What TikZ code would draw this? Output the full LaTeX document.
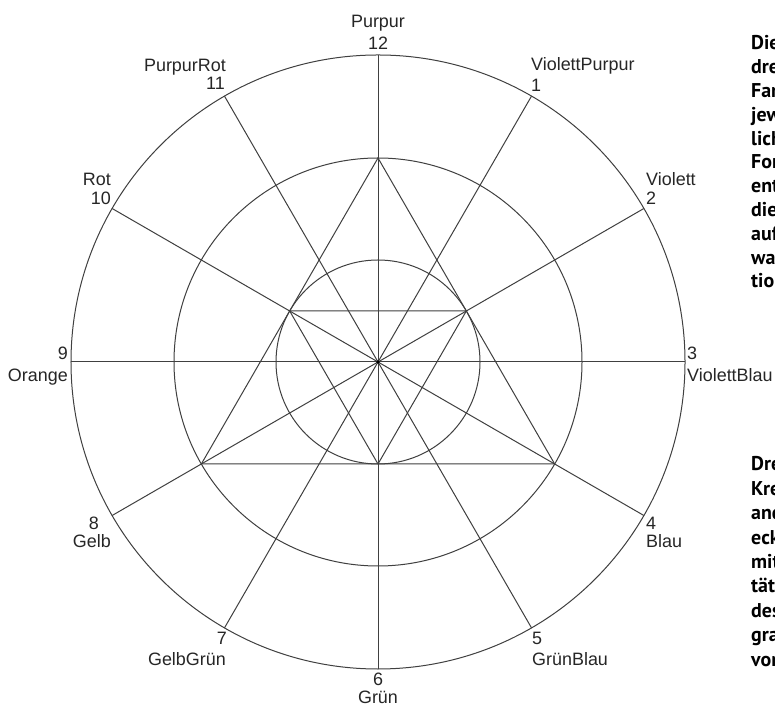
\documentclass[tikz,border=0pt]{standalone}
\usepackage{fontspec}
\setmainfont{Liberation Sans}
\newfontfamily\boldtext{PT Sans}
\begin{document}
\begin{tikzpicture}[x=1bp,y=1bp,line join=round]
\tikzset{
  wheel/.style={draw=black!75,line width=1bp},
  lab/.style={font=\fontsize{18}{20}\selectfont,text=black!85,inner sep=0pt},
  side/.style={font=\boldtext\bfseries\fontsize{20}{22}\selectfont,text=black,anchor=base west,inner sep=0pt}
}
\useasboundingbox (0,0) rectangle (775,707);
\fill[white] (0,0) rectangle (775,707);
\clip (0,0) rectangle (775,707);
\coordinate (C) at (378,345);
\foreach \i in {1,...,12} {\path (C) ++({90-30*\i}:307) coordinate (s\i);}
\path (C) ++(90:204) coordinate (T12);
\path (C) ++(210:204) coordinate (T8);
\path (C) ++(330:204) coordinate (T4);
\path (C) ++(30:102) coordinate (T2);
\path (C) ++(150:102) coordinate (T10);
\path (C) ++(270:102) coordinate (T6);
\draw[wheel] (C) circle[radius=307bp];
\draw[wheel] (C) circle[radius=204bp];
\draw[wheel] (C) circle[radius=102bp];
\foreach \i in {1,...,12} {\draw[wheel] (C) -- (s\i);}
\draw[wheel] (T12) -- (T8) -- (T4) -- cycle;
\draw[wheel] (T2) -- (T10) -- (T6) -- cycle;
\fill[black] (C) circle[radius=1.8bp];
% labels
\node[lab,anchor=base] (l12a) at (378,679) {Purpur};
\node[lab,anchor=base] (l12b) at (378,657) {12};
\node[lab,anchor=base west] (l1a) at (531,636) {ViolettPurpur};
\node[lab,anchor=base west] (l1b) at (531,615) {1};
\node[lab,anchor=base west] (l2a) at (646,521) {Violett};
\node[lab,anchor=base west] (l2b) at (646,502) {2};
\node[lab,anchor=base west] (l3a) at (687,347) {3};
\node[lab,anchor=base west] (l3b) at (687,325) {ViolettBlau};
\node[lab,anchor=base west] (l4a) at (646,177) {4};
\node[lab,anchor=base west] (l4b) at (646,159) {Blau};
\node[lab,anchor=base west] (l5a) at (532,62) {5};
\node[lab,anchor=base west] (l5b) at (532,41) {GrünBlau};
\node[lab,anchor=base] (l6a) at (378,21) {6};
\node[lab,anchor=base] (l6b) at (378,3) {Grün};
\node[lab,anchor=base east] (l7a) at (227,62) {7};
\node[lab,anchor=base east] (l7b) at (226,41) {GelbGrün};
\node[lab,anchor=base east] (l8a) at (99,177) {8};
\node[lab,anchor=base east] (l8b) at (111,159) {Gelb};
\node[lab,anchor=base east] (l9a) at (68,347) {9};
\node[lab,anchor=base east] (l9b) at (68,325) {Orange};
\node[lab,anchor=base east] (l10a) at (111,521) {Rot};
\node[lab,anchor=base east] (l10b) at (111,502) {10};
\node[lab,anchor=base east] (l11a) at (226,635) {PurpurRot};
\node[lab,anchor=base east] (l11b) at (225,617) {11};
% side text (cut off at the right edge, as in the reference)
\foreach \t [count=\k from 0] in {Die,dre,Far,jew,lich,For,ent,die,auf,wa,tion}
  {\node[side] (a\k) at (751,{707-50-23.8*\k}) {\t};}
\foreach \t [count=\k from 0] in {Dre,Kre,and,eck,mit,tät,des,gra,vor}
  {\node[side] (b\k) at (751,{707-471-24.4*\k}) {\t};}
\end{tikzpicture}
\end{document}
